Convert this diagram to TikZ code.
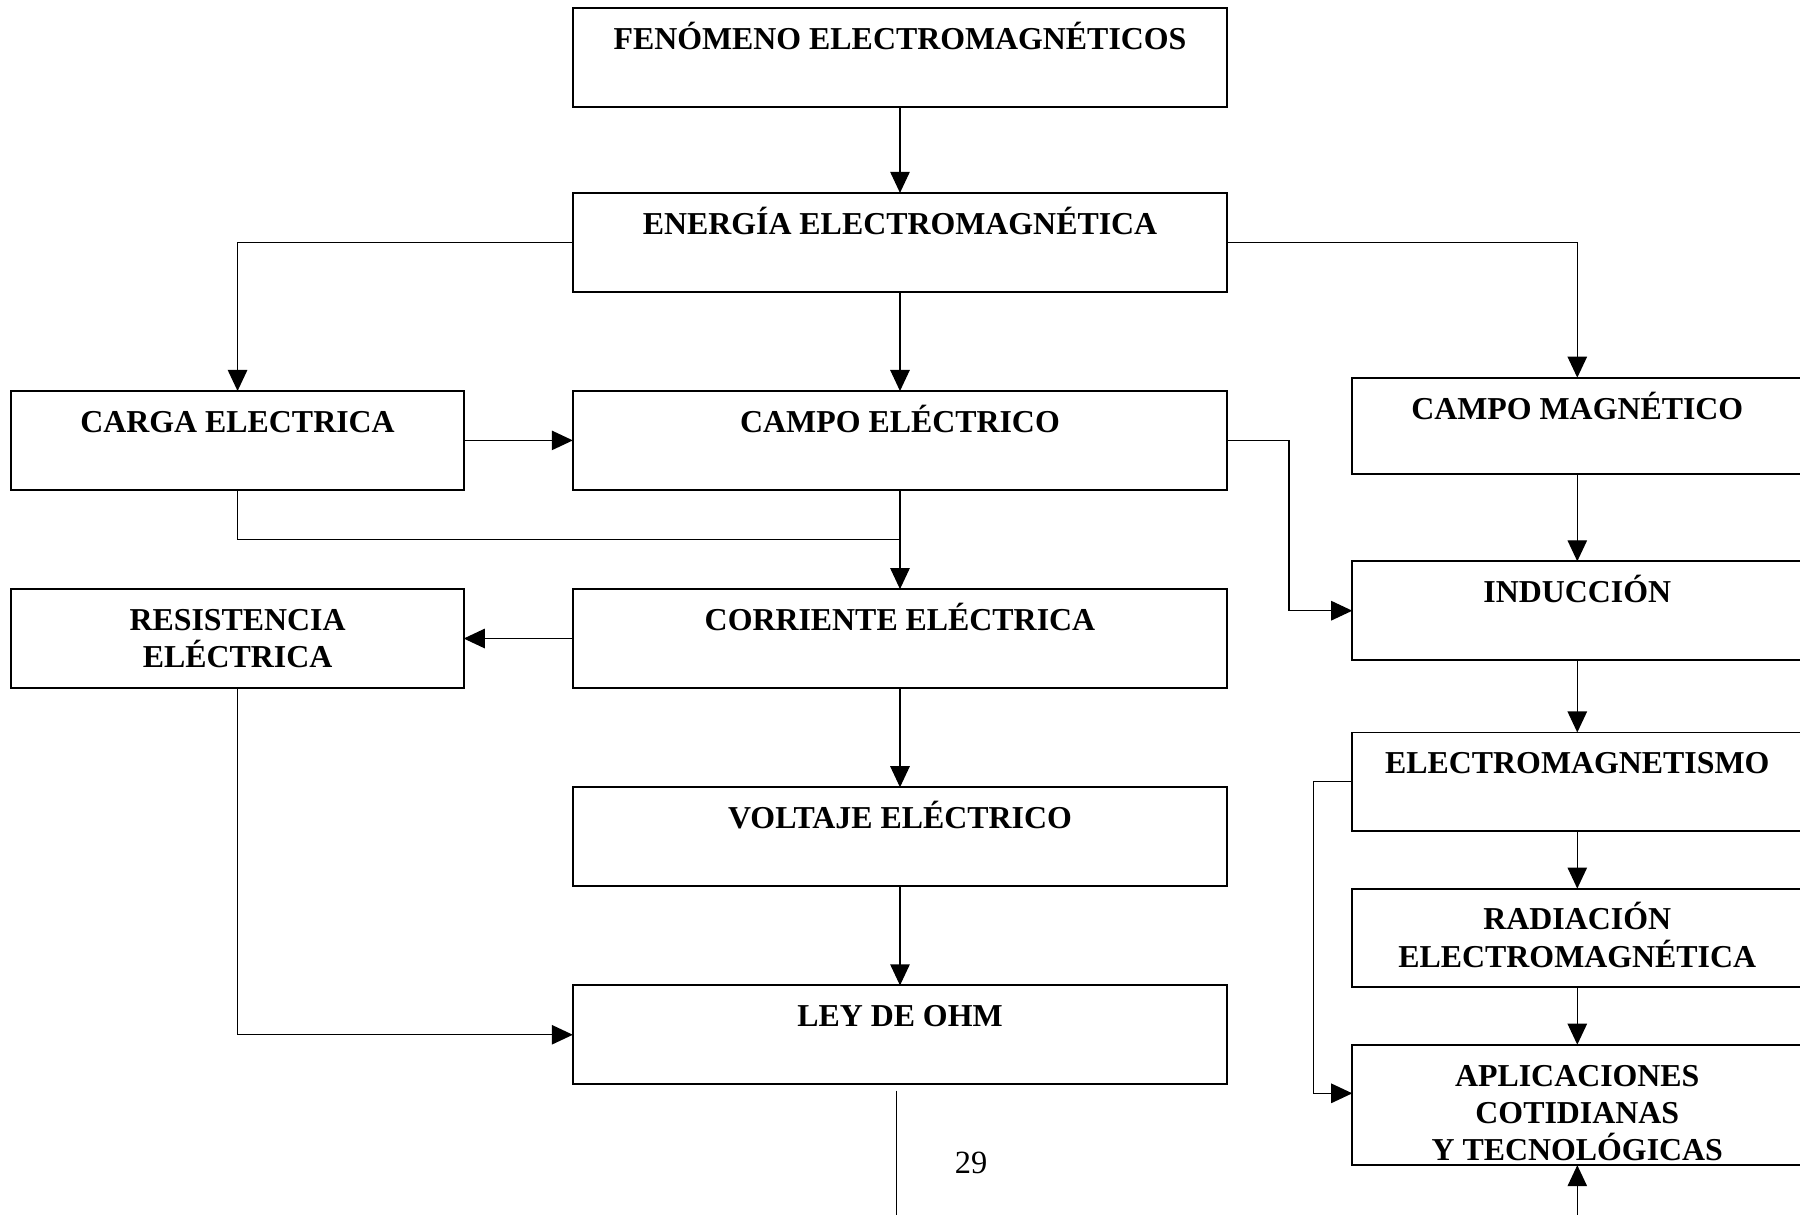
\documentclass[tikz,border=0pt]{standalone}
\usepackage{fontspec}
\setmainfont{Liberation Serif}
\usetikzlibrary{positioning, arrows.meta, calc}
\tikzset{
  >={Triangle[length=7.8pt, width=7.2pt]},
  every node/.style={font=\fontsize{11.8}{13.8}\selectfont\bfseries},
  boxtext/.style 2 args={
    execute at begin node={\begin{minipage}[c][#2][t]{#1}\centering\rule{0pt}{15.3pt}},
    execute at end node={\end{minipage}}
  },
  concept/.style={
    rectangle, draw, line width=0.7pt, inner sep=0pt, outer sep=0pt,
    minimum width=242.25pt, boxtext={236pt}{36.55pt}
  },
  topic/.style={
    rectangle, draw, line width=0.7pt, inner sep=0pt, outer sep=0pt,
    minimum width=167.45pt, boxtext={160pt}{36.55pt}
  },
  branch/.style={
    rectangle, draw, line width=0.7pt, inner sep=0pt, outer sep=0pt,
    minimum width=166.6pt, boxtext={160pt}{#1}
  },
  branch/.default=36.55pt,
  flowarrow/.style={->, line width=0.5pt},
  plainline/.style={line width=0.5pt},
  pagenum/.style={font=\fontsize{12}{13.8}\selectfont\mdseries}
}

\begin{document}
\begin{tikzpicture}[x=0.425pt, y=-0.425pt, node distance=36.8pt and 40.4pt]
\useasboundingbox (0,0) rectangle (1568,1058);
\clip (0,0) rectangle (1568,1058);

% Central column
\node[concept, anchor=north] (fen) at (784,7) {FENÓMENO ELECTROMAGNÉTICOS};
\node[concept, below=31.9pt of fen] (ene) {ENERGÍA ELECTROMAGNÉTICA};
\node[concept, below=of ene] (campoe) {CAMPO ELÉCTRICO};
\node[concept, below=of campoe] (corr) {CORRIENTE ELÉCTRICA};
\node[concept, below=of corr] (volt) {VOLTAJE ELÉCTRICO};
\node[concept, below=of volt] (ley) {LEY DE OHM};

% Left column
\node[topic, left=of campoe] (carga) {CARGA ELECTRICA};
\node[topic, left=of corr] (resist) {RESISTENCIA\\ELÉCTRICA};

% Right column
\node[branch=35.7pt, anchor=north] (campom) at (1374,329) {CAMPO MAGNÉTICO};
\node[branch, below=32.3pt of campom] (induc) {INDUCCIÓN};
\node[branch, below=26.8pt of induc] (emag) {ELECTROMAGNETISMO};
\node[branch, below=21.25pt of emag] (radia) {RADIACIÓN\\ELECTROMAGNÉTICA};
\node[branch=44.6pt, below=21.25pt of radia] (aplic) {APLICACIONES\\COTIDIANAS\\Y TECNOLÓGICAS};

% Connectors
\draw[flowarrow] (fen) -- (ene);
\draw[flowarrow] (ene.west) -| (carga.north);
\draw[flowarrow] (ene) -- (campoe);
\draw[flowarrow] (ene.east) -| (campom.north);
\draw[flowarrow] (carga) -- (campoe);
\draw[flowarrow] (campoe.east) -- ++(54,0) |- (induc.west);
\coordinate (join) at ($(campoe.south)!0.5!(corr.north)$);
\draw[plainline] (carga.south) |- (join);
\draw[flowarrow] (campoe) -- (corr);
\draw[flowarrow] (corr) -- (resist);
\draw[flowarrow] (corr) -- (volt);
\draw[flowarrow] (volt) -- (ley);
\draw[flowarrow] (resist.south) |- (ley.west);
\draw[flowarrow] (campom) -- (induc);
\draw[flowarrow] (induc) -- (emag);
\draw[flowarrow] (emag) -- (radia);
\draw[flowarrow] (radia) -- (aplic);
\draw[flowarrow] (emag.west) -- ++(-34,0) |- ([yshift=4.3pt]aplic.west);

% Page foot
\coordinate (feed) at (1374,1058);
\draw[flowarrow] (feed) -- (aplic.south);
\coordinate (tailtop) at (781,950);
\coordinate (tailend) at (781,1058);
\draw[plainline] (tailtop) -- (tailend);
\node[pagenum] (page) at (846,1013) {29};

\end{tikzpicture}
\end{document}
